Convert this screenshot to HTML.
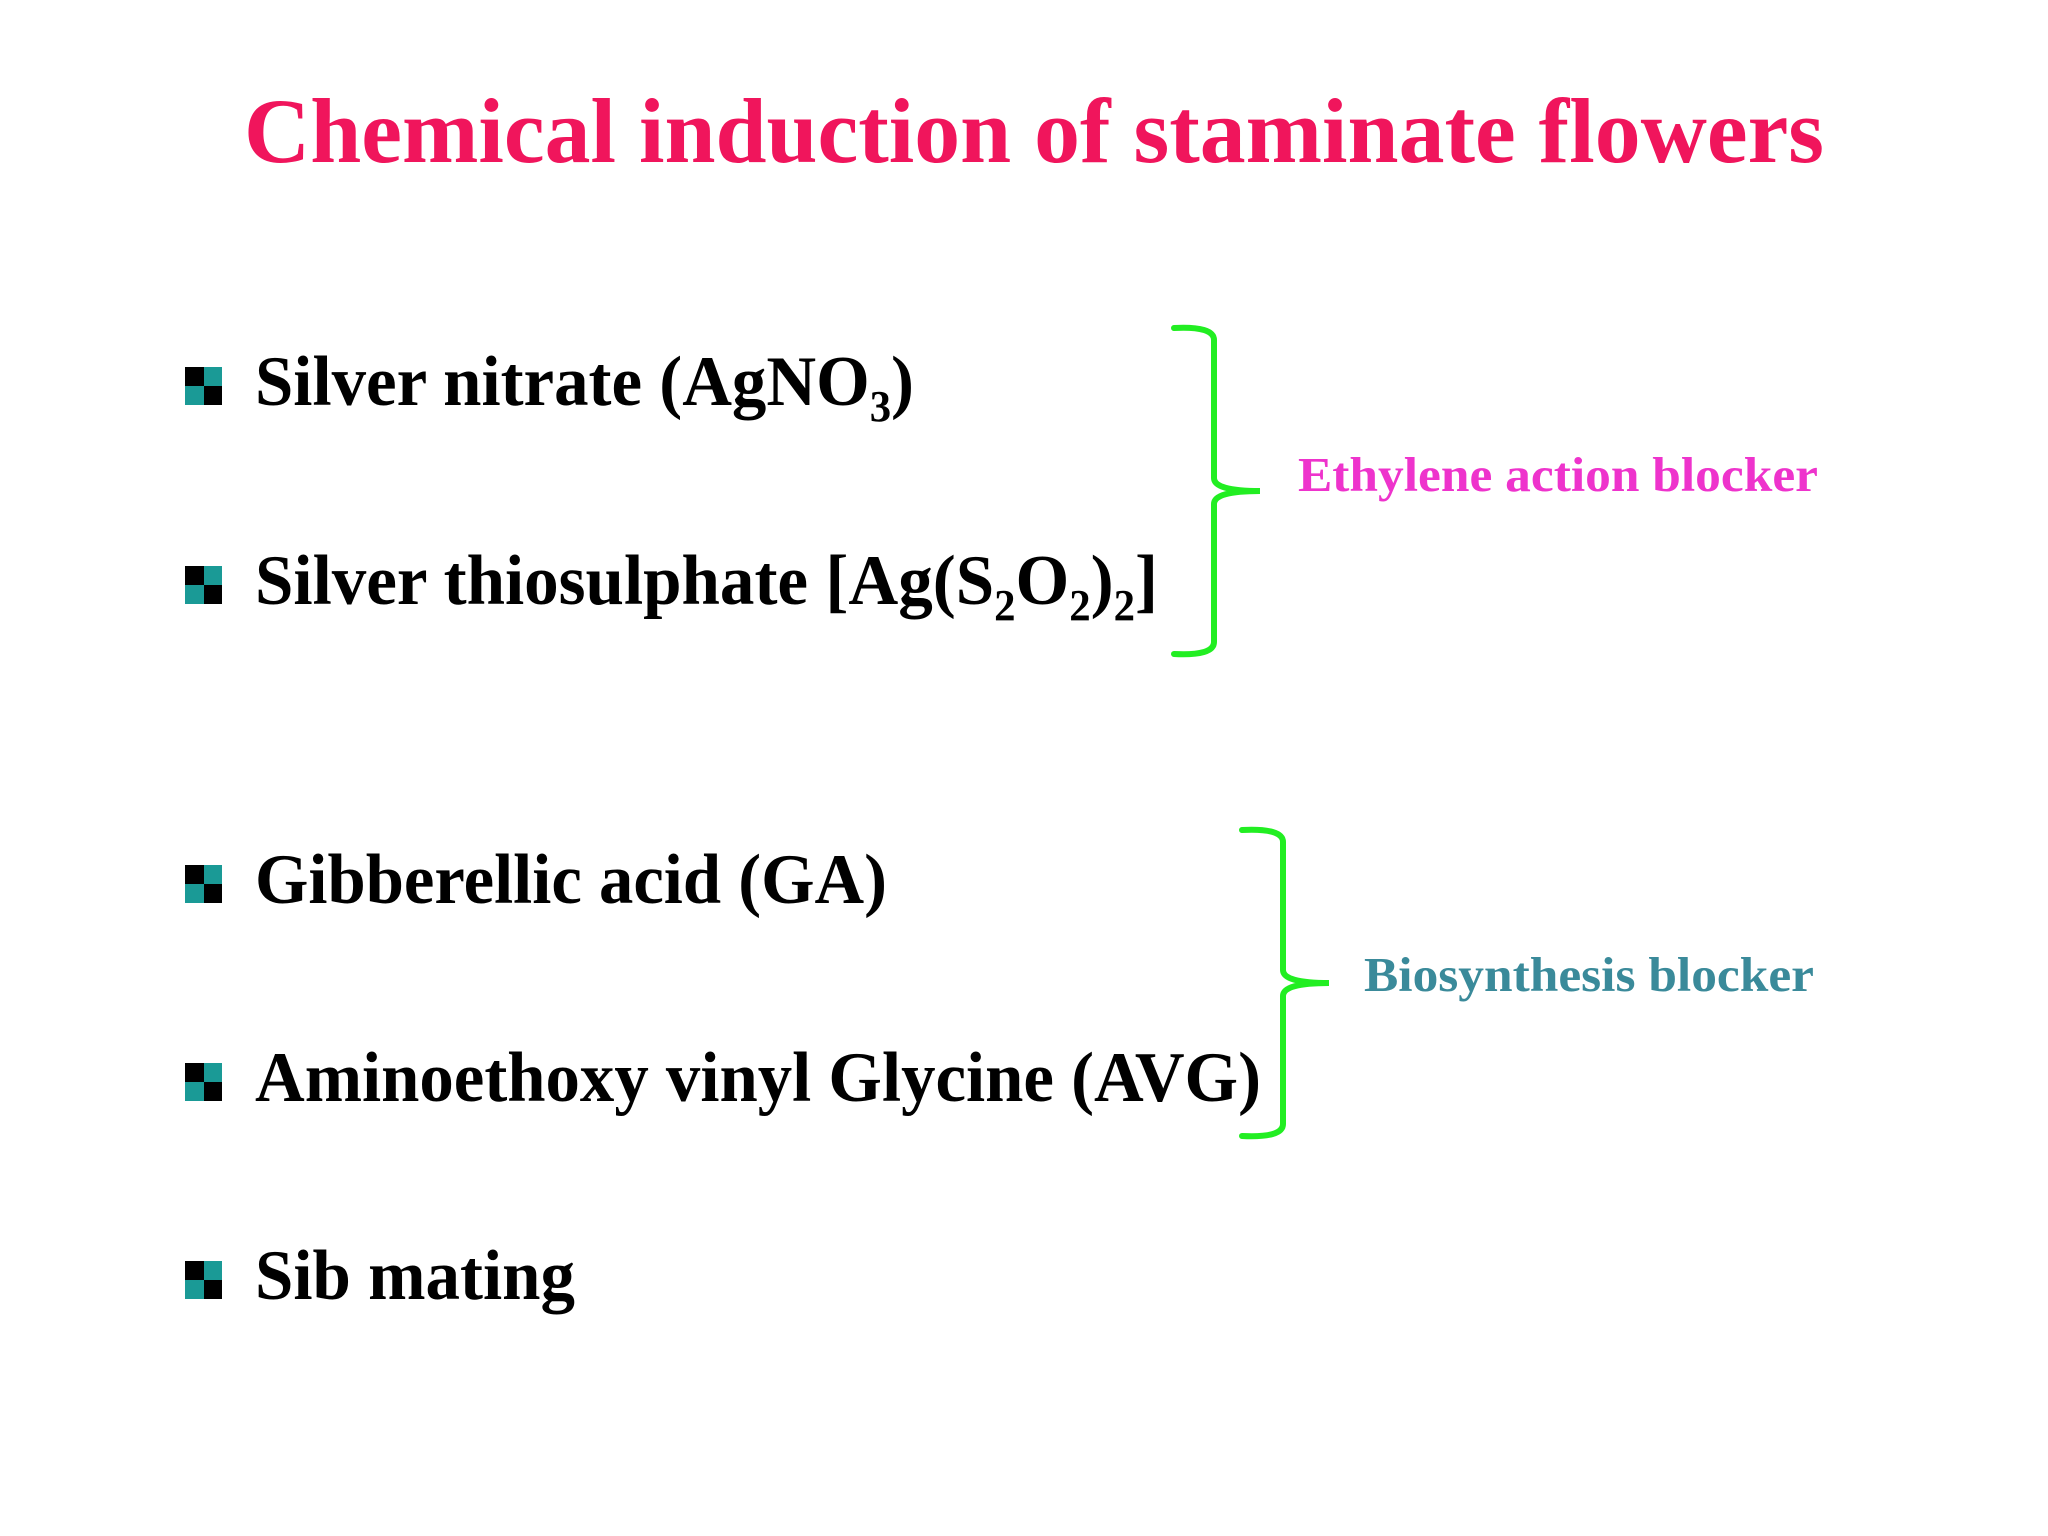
<!DOCTYPE html>
<html><head><meta charset="utf-8"><style>html,body{margin:0;padding:0;background:#fff}svg{display:block}</style></head>
<body>
<svg width="2048" height="1536" viewBox="0 0 2048 1536" xmlns="http://www.w3.org/2000/svg" font-family="'Liberation Serif', serif" font-weight="bold">
<rect width="2048" height="1536" fill="#fff"/>
<text x="244" y="162" font-size="92" fill="#f0155c" textLength="1580" lengthAdjust="spacingAndGlyphs">Chemical induction of staminate flowers</text>
<defs>
<g id="b"><rect x="0" y="0" width="19" height="19" fill="#000"/><rect x="19" y="0" width="18" height="19" fill="#1a9a96"/><rect x="0" y="19" width="19" height="19" fill="#1a9a96"/><rect x="19" y="19" width="18" height="19" fill="#000"/></g>
</defs>
<use href="#b" x="185" y="367"/>
<use href="#b" x="185" y="566"/>
<use href="#b" x="185" y="865"/>
<use href="#b" x="185" y="1063"/>
<use href="#b" x="185" y="1261"/>
<g font-size="71" fill="#000">
<text x="255" y="405" textLength="659" lengthAdjust="spacingAndGlyphs">Silver nitrate (AgNO<tspan font-size="44" dy="16">3</tspan><tspan dy="-16">)</tspan></text>
<text x="255" y="604" textLength="903" lengthAdjust="spacingAndGlyphs">Silver thiosulphate [Ag(S<tspan font-size="44" dy="16">2</tspan><tspan dy="-16">O</tspan><tspan font-size="44" dy="16">2</tspan><tspan dy="-16">)</tspan><tspan font-size="44" dy="16">2</tspan><tspan dy="-16">]</tspan></text>
<text x="255" y="903" textLength="632" lengthAdjust="spacingAndGlyphs">Gibberellic acid (GA)</text>
<text x="255" y="1101" textLength="1006" lengthAdjust="spacingAndGlyphs">Aminoethoxy vinyl Glycine (AVG)</text>
<text x="255" y="1299" textLength="320" lengthAdjust="spacingAndGlyphs">Sib mating</text>
</g>
<g fill="none" stroke="#22ee22" stroke-width="6" stroke-linecap="round">
<path d="M1174 328 Q1214 326 1214 340 L1214 478 Q1214 491 1260 491 Q1214 491 1214 504 L1214 642 Q1214 656 1174 654"/>
<path d="M1242 830 Q1283 828 1283 842 L1283 970 Q1283 983 1329 983 Q1283 983 1283 996 L1283 1124 Q1283 1138 1242 1136"/>
</g>
<text x="1298" y="491" font-size="49" fill="#ee33cc" textLength="520" lengthAdjust="spacingAndGlyphs">Ethylene action blocker</text>
<text x="1364" y="991" font-size="49" fill="#3a8a9a" textLength="450" lengthAdjust="spacingAndGlyphs">Biosynthesis blocker</text>
</svg>
</body></html>
